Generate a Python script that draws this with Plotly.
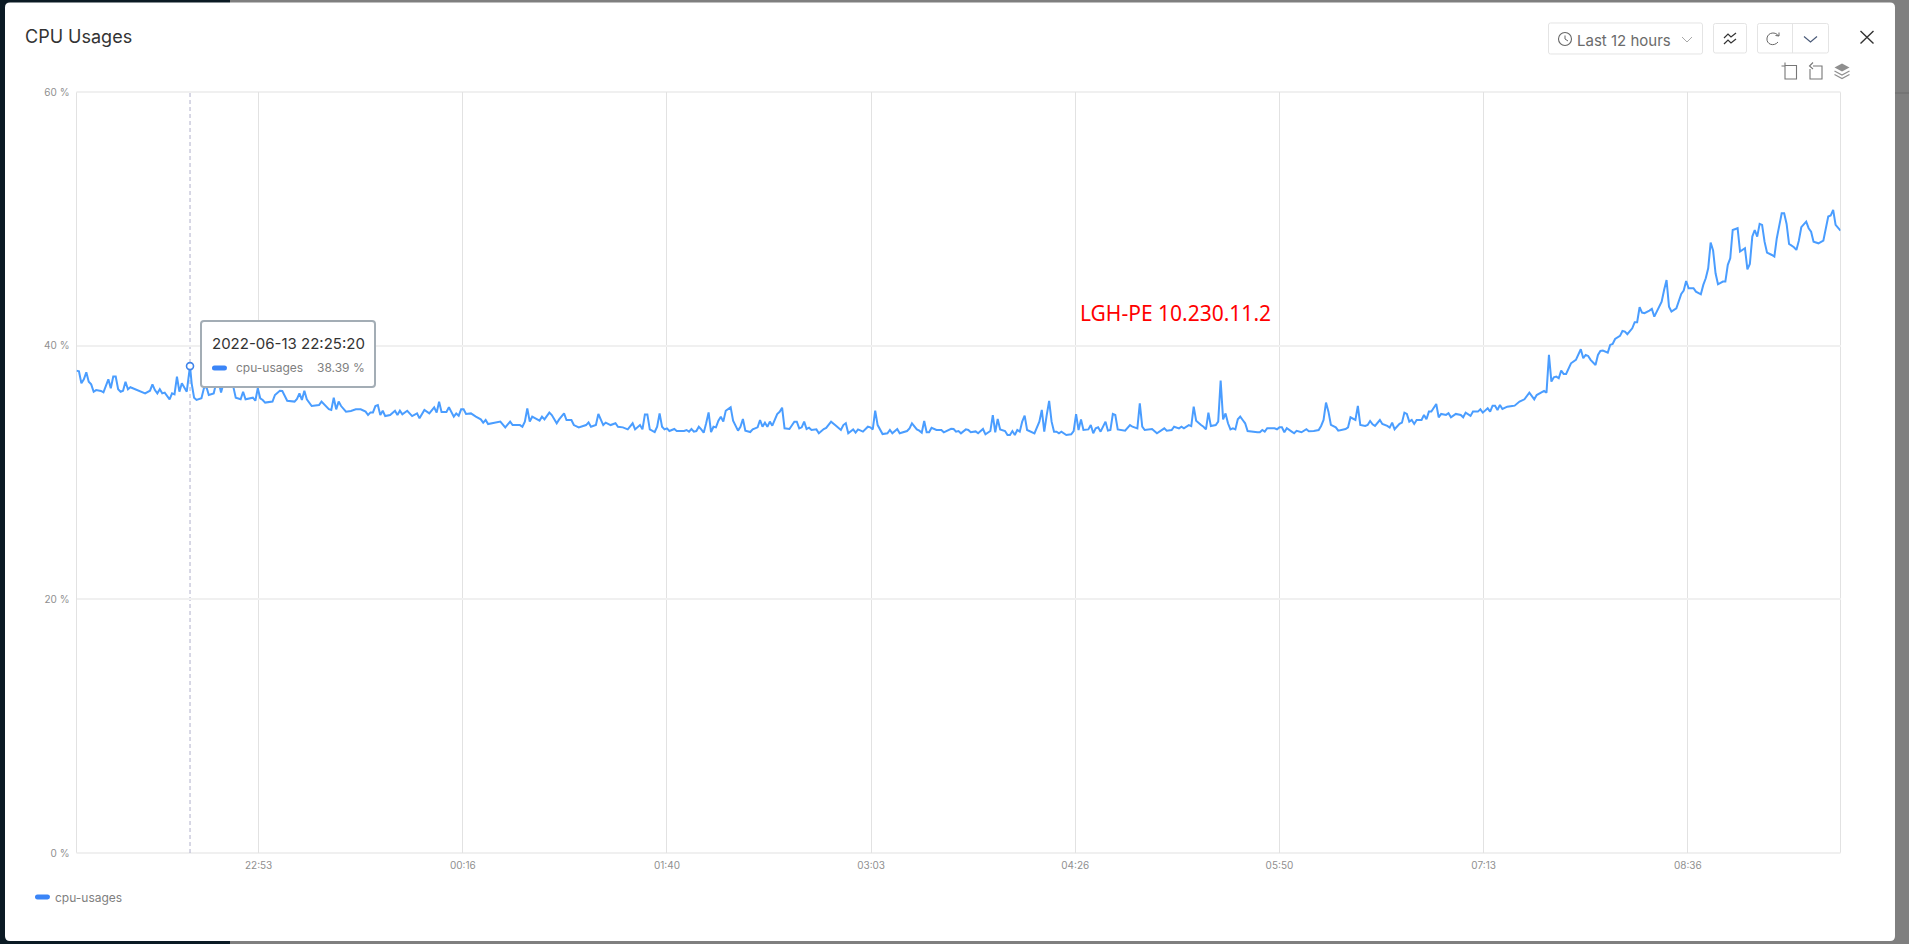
import re
import pandas as pd
import plotly.graph_objects as go

W, H = 1909, 944
TITLE = "CPU Usages"
SERIES_NAME = "cpu-usages"
NOTE = "LGH-PE 10.230.11.2"
START = "2022-06-13 21:39:00"
END = "2022-06-14 09:39:00"
HOVER_TIME = "2022-06-13 22:25:20"
HOVER_LABEL = "2022-06-13 22:25:20"
HOVER_VALUE = 38.39
RANGE_LABEL = "Last 12 hours"

tick_times = ["2022-06-13 22:53:20", "2022-06-14 00:16:40", "2022-06-14 01:40:00", "2022-06-14 03:03:20",
              "2022-06-14 04:26:40", "2022-06-14 05:50:00", "2022-06-14 07:13:20", "2022-06-14 08:36:40"]
tick_labels = ["22:53", "00:16", "01:40", "03:03", "04:26", "05:50", "07:13", "08:36"]
y_ticks = [0, 20, 40, 60]
y_labels = ["0 %", "20 %", "40 %", "60 %"]

minutes = [
    0,1,2,3,4,5,6,7,8,10,11,12,13,14,15,16,17,18,19,20,21,22,24,26,28,30,31,32,33,34,
    35,36,38,39,40,41,42,43,45,46.33,47,48,49,51,52,53,54,56,57,58,59,60,62,64,65,67,68,69,72,73,
    74,75,76,77,80,81,83,84,86,89,90,91,92,93,94,96,98,99,100,103,104,105,106,107,108,110,112,114,116,118,
    119,120,121,122,123,124,125,126,128,130,131,132,133,135,137,139,140,142,144,146,147,148,149,151,152,154,155,156,157,158,
    159,161,163,165,166,167,168,172,173,175,177,178,181,182,183,184,185,186,188,189,190,191,193,194,196,197,199,200,202,203,
    205,208,209,210,212,213,215,216,218,220,221,223,225,227,228,229,230,231,232,233,234,236,237,238,239,240,241,242,244,245,
    248,249,250,251,252,253,254,255,256,257,258,259,260,261,262,263,264,265,267,268,270,271,272,273,275,276,278,279,280,281,
    282,283,284,286,287,288,289,291,293,294,295,296,297,298,299,300,302,303,305,306,308,310,312,313,314,315,317,318,319,321,
    323,324,325,326,327,329,331,332,333,335,336,339,340,341,343,344,345,346,347,348,349,351,353,354,357,358,359,360,361,363,
    364,365,367,368,370,371,373,374,375,376,377,379,380,381,382,383,384,385,386,387,388,391,392,393,394,395,396,397,398,399,
    400,401,402,404,406,407,408,409,410,411,413,414,415,416,417,418,420,421,422,423,424,425,428,430,431,433,434,435,436,438,
    439,441,443,444,445,447,448,450,451,452,454,455,456,457,459,460,461,462,463,465,466,467,468,469,470,471,472,473,474,475,
    476,477,478,480,482,483,484,485,486,489,490,491,492,493,494,496,497,498,500,502,503,505,507,508,509,510,511,512,514,515,
    516,518,519,520,522,523,524,526,527,528,529,530,532,533,535,536,537,538,540,541,542,543,544,545,546,547,549,550,551,552,
    553,555,556,557,559,560,561,563,565,566,567,568,569,570,572,573,574,576,577,578,579,580,581,582,584,586,587,589,591,593,
    594,595,596,599,600,601,602,603,604,605,606,607,608,609,610,612,613,614,615,616,617,618,620,621,622,623,625,626,627,628,
    630,631,632,633,635,636,637,638,639,640,642,643,644,646,647,648,649,650,651,653,655,656,657,658,660,661,663,664,665,666,
    667,668,669,670,672,673,674,675,676,678,679,681,682,683,684,685,686,687,688,689,690,692,693,694,695,696,697,698,699,701,
    702,703,704,706,707,708,709,711,713,714,715,716,717,718,720,
]
cpu_usage = [
    38.03,37.98,37.03,37.35,37.90,37.16,36.95,36.37,36.50,36.43,36.32,36.90,37.35,36.64,37.56,37.56,36.56,36.37,36.45,37.16,36.56,36.72,36.56,36.45,36.24,36.45,36.95,36.50,36.24,36.56,
    36.24,36.30,35.77,36.24,36.16,37.56,36.37,37.03,36.37,38.39,37.03,35.90,35.72,35.85,36.64,36.77,36.11,36.24,37.03,37.16,36.30,37.03,37.16,36.77,35.90,35.77,36.37,35.77,35.90,35.66,
    36.64,35.85,35.72,35.51,35.59,36.11,36.45,36.43,35.66,35.59,35.80,36.24,35.72,36.45,35.77,35.24,35.32,35.32,35.59,35.00,34.93,35.90,34.98,35.59,35.24,34.80,34.85,34.98,34.98,34.80,
    34.53,34.74,34.74,35.24,35.32,34.53,34.87,34.45,34.53,34.87,34.53,34.87,34.58,34.87,34.45,34.66,34.27,34.93,34.66,35.14,34.72,35.58,34.77,34.77,35.14,34.40,34.66,34.48,34.98,34.98,
    34.61,34.66,34.40,34.19,33.93,34.14,33.82,33.93,34.01,33.56,34.01,33.74,33.74,33.61,34.01,35.06,34.01,34.40,34.19,34.09,34.40,34.19,34.72,34.53,33.88,34.19,34.66,34.14,34.14,33.74,
    33.56,33.74,33.95,33.61,33.74,34.61,33.74,33.93,33.74,33.88,33.61,33.56,33.40,33.88,33.40,33.61,33.74,33.40,34.58,34.58,33.40,33.19,33.61,34.66,33.61,33.40,33.48,33.27,33.43,33.27,
    33.27,33.35,33.22,33.43,33.22,33.27,33.61,33.40,33.14,33.88,34.74,33.19,33.61,33.56,34.09,34.40,34.01,34.87,35.14,34.09,33.30,33.61,34.22,33.30,33.19,33.40,33.56,34.14,33.61,33.93,
    33.61,34.01,33.69,34.61,34.79,35.11,33.48,33.43,34.01,34.01,33.48,33.56,34.01,33.43,33.53,33.35,33.40,33.09,33.43,33.51,34.01,33.69,33.35,33.74,33.88,33.09,33.40,33.14,33.40,33.22,
    33.61,33.56,33.40,34.87,33.74,33.03,33.09,33.35,33.09,33.43,33.09,33.27,33.48,33.88,33.40,33.30,33.14,34.06,33.17,33.17,33.53,33.35,33.35,33.17,33.45,33.43,33.22,33.27,33.09,33.40,
    33.35,33.17,33.24,33.09,33.43,33.01,33.27,34.53,33.17,34.22,33.40,33.27,32.96,32.96,33.27,32.96,33.35,33.22,34.01,34.48,33.35,33.09,33.61,34.01,34.93,33.22,34.53,35.64,34.01,33.22,
    33.22,33.09,33.22,32.96,33.01,33.27,34.61,33.35,34.19,33.35,33.40,33.74,33.09,33.48,33.56,33.22,34.01,33.30,33.35,34.61,34.53,33.40,33.30,33.74,33.61,33.48,35.45,33.61,33.35,33.40,
    33.43,33.09,33.40,33.48,33.30,33.35,33.61,33.48,33.61,33.48,33.74,33.66,35.19,34.09,33.74,33.61,33.40,34.72,33.66,33.74,34.01,37.24,34.19,34.66,33.88,33.40,33.48,33.40,34.19,34.40,
    34.14,33.88,33.27,33.19,33.17,33.17,33.35,33.22,33.49,33.49,33.41,33.56,33.56,33.17,33.49,33.22,33.09,33.28,33.17,33.41,33.25,33.28,33.35,33.67,34.14,35.51,34.80,33.75,33.56,33.30,
    33.35,33.43,33.56,34.35,34.14,35.25,33.75,33.67,33.75,34.06,33.80,33.67,34.14,33.83,33.67,33.54,33.93,33.41,33.83,33.93,34.72,34.62,34.01,34.14,33.83,34.14,34.14,34.54,34.20,34.80,
    34.80,35.40,34.35,34.62,34.54,34.67,34.35,34.62,34.54,34.35,34.72,34.62,34.46,34.80,34.80,34.98,34.72,35.06,34.80,35.27,35.27,34.93,35.33,35.01,35.19,35.25,35.27,35.59,35.77,36.30,
    36.03,35.77,36.11,36.43,36.30,39.27,37.17,37.51,37.56,37.43,38.03,37.77,37.77,38.22,38.61,38.88,39.27,39.72,39.01,39.27,39.19,38.88,38.48,39.27,39.58,39.61,39.45,40.06,40.14,40.53,
    40.77,41.16,41.11,40.90,41.37,41.85,41.85,43.03,42.61,42.56,42.77,42.90,42.29,43.13,43.47,44.39,45.18,43.08,42.69,42.95,44.08,44.34,45.10,44.53,44.53,44.26,44.05,44.79,45.31,46.10,
    48.13,47.50,45.71,44.84,45.05,45.05,46.37,46.89,49.12,49.26,47.42,47.68,46.02,46.44,48.60,49.12,48.60,49.60,49.52,48.20,47.34,47.15,47.02,48.47,49.60,50.44,50.44,49.60,48.02,47.76,
    47.55,48.28,49.34,49.78,49.26,48.99,48.20,48.07,48.28,49.18,50.18,50.26,50.70,49.52,49.07,
]
assert len(minutes) == len(cpu_usage), (len(minutes), len(cpu_usage))

times = pd.Timestamp(START) + pd.to_timedelta(minutes, unit="min")

FONT = "Inter"
LINE = "#4a9dff"
GRID_V = "#e2e2e2"
GRID_H = "#f0f0f0"
MUTED = "#8f8f8f"


def fx(x):
    return x / W


def fy(y):
    return 1 - y / H


def path(d):
    """Turn an SVG path written in page pixels into paper coordinates."""
    out = []
    for cmd, args in re.findall(r"([MLQCZ])([^MLQCZ]*)", d):
        nums = [float(n) for n in args.split()]
        pts = [f"{fx(nums[i]):.6f},{fy(nums[i + 1]):.6f}" for i in range(0, len(nums), 2)]
        out.append(cmd + " ".join(pts))
    return " ".join(out)


def rounded(x0, y0, x1, y1, r):
    return (f"M{x0 + r} {y0} L{x1 - r} {y0} Q{x1} {y0} {x1} {y0 + r} L{x1} {y1 - r} Q{x1} {y1} {x1 - r} {y1} "
            f"L{x0 + r} {y1} Q{x0} {y1} {x0} {y1 - r} L{x0} {y0 + r} Q{x0} {y0} {x0 + r} {y0} Z")


def shape(d, fill=None, color=None, width=1, layer="above"):
    return dict(type="path", xref="paper", yref="paper", path=path(d), layer=layer,
                fillcolor=fill or "rgba(0,0,0,0)",
                line=dict(color=color or "rgba(0,0,0,0)", width=width if color else 0))


def label(x, y, text, size, color, anchor="left", family=FONT):
    return dict(xref="paper", yref="paper", x=fx(x), y=fy(y), text=text, showarrow=False,
                xanchor=anchor, yanchor="middle", align=anchor, borderpad=0, borderwidth=0,
                font=dict(family=family, size=size, color=color))


fig = go.Figure()
fig.add_trace(go.Scatter(x=times, y=cpu_usage, mode="lines", name=SERIES_NAME,
                         line=dict(color=LINE, width=2), hoverinfo="x+y"))
fig.add_trace(go.Scatter(x=[HOVER_TIME], y=[HOVER_VALUE], mode="markers", name=SERIES_NAME,
                         marker=dict(color="white", size=7, line=dict(color="#3f84ea", width=1.6)),
                         hoverinfo="skip"))

shapes = [
    # page behind the dialog
    dict(type="rect", xref="paper", yref="paper", x0=0, x1=fx(230), y0=0, y1=1, layer="below",
         fillcolor="#0b1a24", line=dict(width=0)),
    shape(rounded(5, 2.5, 1895, 941, 5), fill="white", layer="below"),
    shape("M1895 93 L1909 93", color="#6c6c6c", width=1, layer="below"),
    # crosshair
    dict(type="line", xref="x", yref="y", x0=HOVER_TIME, x1=HOVER_TIME, y0=0, y1=60, layer="below",
         line=dict(color="#b0b0cc", width=1, dash="4px,3px")),
    # plot frame
    shape("M76.5 92 L76.5 853", color=GRID_V, layer="below"),
    shape("M1840.5 92 L1840.5 853", color=GRID_V, layer="below"),
    shape("M76.5 92 L1840.5 92", color=GRID_H, width=2, layer="below"),
    shape("M76.5 853 L1840.5 853", color=GRID_H, width=2, layer="below"),
    # tooltip
    shape(rounded(201, 321, 375, 387, 3), fill="white", color="#a3adb5", width=2),
    shape(rounded(212, 365.5, 227, 370.5, 2.5), fill="#3b85f7"),
    # legend key
    shape(rounded(35, 894.5, 50, 899.5, 2.5), fill="#3b85f7"),
    # toolbar: range selector
    shape(rounded(1548.5, 23, 1702.5, 54, 2), color="#e4e4e4"),
    dict(type="circle", xref="paper", yref="paper", x0=fx(1558.5), x1=fx(1571.5), y0=fy(45.5), y1=fy(32.5),
         line=dict(color="#666666", width=1.1), layer="above"),
    shape("M1565 35.5 L1565 39 L1568 41", color="#666666", width=1),
    shape("M1682 37 L1687 42 L1692 37", color="#a8a8a8", width=1),
    # toolbar: compare button
    shape(rounded(1713.5, 23.5, 1746.5, 53, 2), color="#e4e4e4"),
    shape("M1724 38 L1728 34 L1731 37 L1736 33", color="#333333", width=1.2),
    shape("M1724 44 L1728 40 L1731 43 L1736 39", color="#333333", width=1.2),
    # toolbar: refresh group
    shape(rounded(1757.5, 23.5, 1828.5, 53, 2), color="#e4e4e4"),
    shape("M1792.5 23.5 L1792.5 53", color="#e4e4e4"),
    shape("M1778.5 36 C1776 31.5 1768 32 1767 38 C1766 44.5 1774 47 1778 42", color="#666666", width=1),
    shape("M1775.5 35.5 L1779 36 L1779 32.5", color="#666666", width=1),
    shape("M1804 36.5 L1810.5 42 L1817 36.5", color="#4a5a78", width=1.2),
    # close
    shape("M1860.5 31 L1873.5 43.5 M1873.5 31 L1860.5 43.5", color="#333333", width=1.4),
    # chart tools
    shape("M1785 65.5 L1796.5 65.5 L1796.5 79 L1785 79 L1785 65 M1781.5 66 L1785 66 M1785 62.5 L1785 66",
          color="#777777", width=1.1),
    shape("M1813 66 L1822 66 L1822 79 L1810 79 L1810 69 M1813 62.5 L1809.5 66 L1813 69", color="#777777", width=1.1),
    shape("M1842 63.5 L1849.5 67.5 L1842 71.5 L1834.5 67.5 Z", fill="#8f8f8f"),
    shape("M1834.5 71 L1842 75 L1849.5 71", color="#8f8f8f", width=1.2),
    shape("M1834.5 74.5 L1842 78.5 L1849.5 74.5", color="#8f8f8f", width=1.2),
]

annotations = [
    label(24.5, 37, TITLE, 18, "#333333"),
    label(1577, 40, RANGE_LABEL, 15, "#6b6b6b"),
    label(1080, 313, NOTE, 21, "#ff0000", family="Noto Sans"),
    label(211.5, 343, HOVER_LABEL, 15, "#333333"),
    label(236, 367, SERIES_NAME, 12, "#808080"),
    label(365, 367, f"{HOVER_VALUE} %", 12, "#808080", anchor="right"),
    label(54.5, 897, SERIES_NAME, 12, "#808080"),
]

fig.update_layout(
    width=W, height=H, autosize=False,
    margin=dict(l=0, r=0, t=0, b=0, pad=0, autoexpand=False),
    paper_bgcolor="#7f7f7f", plot_bgcolor="rgba(0,0,0,0)",
    showlegend=False, hovermode="closest",
    font=dict(family=FONT, color=MUTED),
    shapes=shapes, annotations=annotations,
    xaxis=dict(type="date", domain=[fx(76.5), fx(1840.5)], range=[START, END],
               tickmode="array", tickvals=tick_times, ticktext=tick_labels,
               showgrid=True, gridcolor=GRID_V, gridwidth=1, zeroline=False, showline=False,
               ticks="", ticklabelstandoff=5, tickfont=dict(family=FONT, size=10, color=MUTED)),
    yaxis=dict(domain=[fy(853), fy(92)], range=[0, 60], tickmode="array",
               tickvals=y_ticks, ticktext=y_labels,
               showgrid=True, gridcolor=GRID_H, gridwidth=2, zeroline=False, showline=False,
               ticks="", ticklabelstandoff=6, tickfont=dict(family=FONT, size=10, color=MUTED)),
)

fig.write_html("out.html", config={"displayModeBar": False},
               post_script="document.body.style.margin='0';document.body.style.overflow='hidden';")
